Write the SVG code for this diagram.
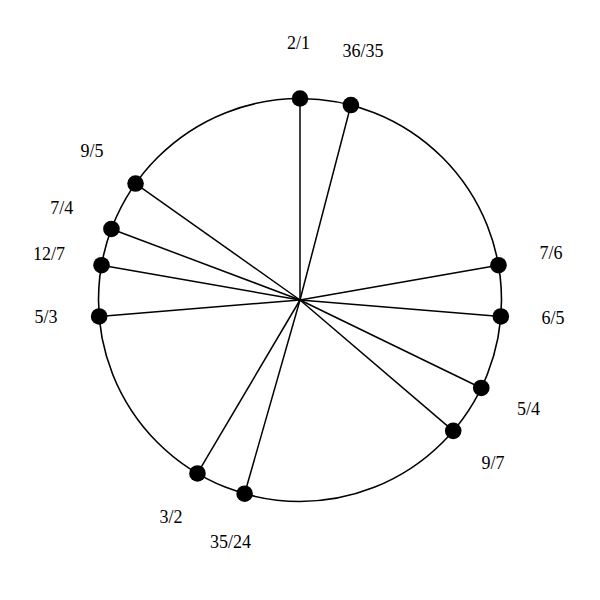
<svg xmlns="http://www.w3.org/2000/svg" width="600" height="600" viewBox="0 0 600 600">
<style>
.ring{fill:none;stroke:#000;stroke-width:1.6}
.spoke{stroke:#000;stroke-width:1.5}
.dot{fill:#000}
.lbl{font-family:"Liberation Serif","Times New Roman",serif;font-size:18px;fill:#000;text-anchor:middle}
</style>
<rect width="600" height="600" fill="#fff"/>
<circle class="ring" cx="300" cy="300" r="201.5"/>
<g id="connectors">
<line class="spoke" x1="300" y1="300" x2="300" y2="98.5"/>
<line class="spoke" x1="300" y1="300" x2="350.89" y2="105.03"/>
<line class="spoke" x1="300" y1="300" x2="498.48" y2="265.22"/>
<line class="spoke" x1="300" y1="300" x2="500.83" y2="316.48"/>
<line class="spoke" x1="300" y1="300" x2="481.27" y2="387.99"/>
<line class="spoke" x1="300" y1="300" x2="453.22" y2="430.86"/>
<line class="spoke" x1="300" y1="300" x2="244.61" y2="493.74"/>
<line class="spoke" x1="300" y1="300" x2="197.47" y2="473.46"/>
<line class="spoke" x1="300" y1="300" x2="99.17" y2="316.48"/>
<line class="spoke" x1="300" y1="300" x2="101.52" y2="265.22"/>
<line class="spoke" x1="300" y1="300" x2="111.44" y2="228.97"/>
<line class="spoke" x1="300" y1="300" x2="135.56" y2="183.54"/>
</g>
<g id="n-2-1"><circle class="dot" cx="300" cy="98.5" r="8.3"/><text class="lbl" x="298.5" y="49">2/1</text></g>
<g id="n-36-35"><circle class="dot" cx="350.89" cy="105.03" r="8.3"/><text class="lbl" x="363" y="57">36/35</text></g>
<g id="n-7-6"><circle class="dot" cx="498.48" cy="265.22" r="8.3"/><text class="lbl" x="551" y="259">7/6</text></g>
<g id="n-6-5"><circle class="dot" cx="500.83" cy="316.48" r="8.3"/><text class="lbl" x="553" y="324">6/5</text></g>
<g id="n-5-4"><circle class="dot" cx="481.27" cy="387.99" r="8.3"/><text class="lbl" x="528.5" y="415">5/4</text></g>
<g id="n-9-7"><circle class="dot" cx="453.22" cy="430.86" r="8.3"/><text class="lbl" x="493" y="469">9/7</text></g>
<g id="n-35-24"><circle class="dot" cx="244.61" cy="493.74" r="8.3"/><text class="lbl" x="230.5" y="548">35/24</text></g>
<g id="n-3-2"><circle class="dot" cx="197.47" cy="473.46" r="8.3"/><text class="lbl" x="171" y="523">3/2</text></g>
<g id="n-5-3"><circle class="dot" cx="99.17" cy="316.48" r="8.3"/><text class="lbl" x="46" y="323">5/3</text></g>
<g id="n-12-7"><circle class="dot" cx="101.52" cy="265.22" r="8.3"/><text class="lbl" x="49" y="260">12/7</text></g>
<g id="n-7-4"><circle class="dot" cx="111.44" cy="228.97" r="8.3"/><text class="lbl" x="61.7" y="214">7/4</text></g>
<g id="n-9-5"><circle class="dot" cx="135.56" cy="183.54" r="8.3"/><text class="lbl" x="92" y="157">9/5</text></g>
</svg>
